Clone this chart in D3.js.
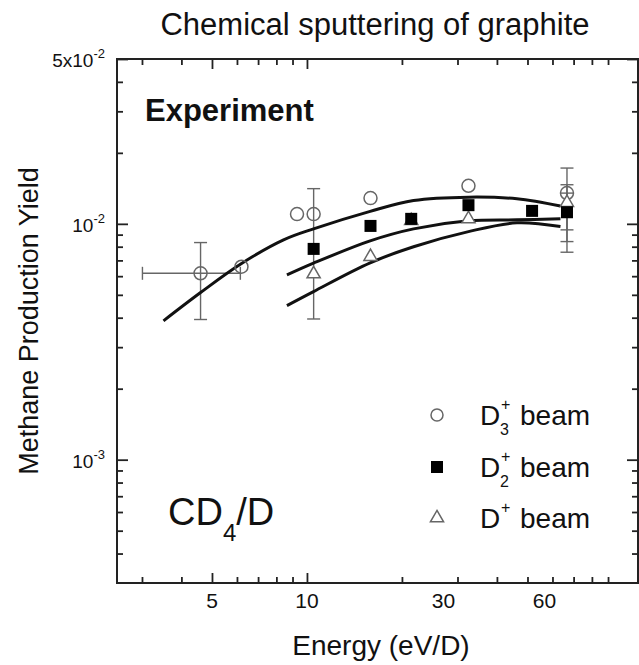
<!DOCTYPE html>
<html>
<head>
<meta charset="utf-8">
<script src="https://cdn.jsdelivr.net/npm/d3@7"></script>
<style>
  body { margin: 0; background: #fff; }
  text { font-family: "Liberation Sans", Arial, sans-serif; fill: #111; }
</style>
</head>
<body>
<svg id="chart" width="639" height="665"></svg>
<script>
// measured points, energy in eV/D, yield
const d3Energy = [4.6, 6.2, 9.3, 10.5, 15.9, 32.5, 66.7];
const d3Yield  = [0.00617, 0.00658, 0.0110, 0.0110, 0.01286, 0.0145, 0.01351];
const d2Energy = [10.5, 15.9, 21.4, 32.5, 51.7, 66.7];
const d2Yield  = [0.00783, 0.0098, 0.0105, 0.0120, 0.01135, 0.0112];
const d1Energy = [10.5, 15.9, 21.4, 32.5, 66.7];
const d1Yield  = [0.00613, 0.00726, 0.0103, 0.0105, 0.0123];

// error bars (yield range, optional energy range)
const errEnergy = [4.6, 10.5, 66.7, 66.7, 66.7];
const errLow    = [0.00393, 0.00395, 0.00758, 0.00841, 0.00943];
const errHigh   = [0.00833, 0.0141, 0.01724, 0.01465, 0.0135];
const errELow   = [3.01, null, null, null, null];
const errEHigh  = [6.15, null, null, null, null];
const errYield  = [0.00617, 0.00783, 0.01351, 0.0123, 0.0112];

// fitted curves
const fitD3E = [3.51, 4.59, 6.15, 8.43, 10.49, 15.86, 21.77, 32.5, 46.3, 63.6];
const fitD3Y = [0.00388, 0.0051, 0.00674, 0.00855, 0.00952, 0.0113, 0.01256, 0.01298, 0.01277, 0.0119];
const fitD2E = [8.64, 10.49, 15.86, 21.77, 32.5, 46.3, 63.6];
const fitD2Y = [0.00607, 0.00681, 0.00847, 0.00952, 0.0103, 0.0104, 0.0105];
const fitD1E = [8.64, 10.49, 15.86, 21.77, 32.5, 46.3, 63.6];
const fitD1Y = [0.0045, 0.00516, 0.00683, 0.0080, 0.00927, 0.0101, 0.00974];

// ticks
const xMajor = [5, 10];
const xMinor = [3, 4, 6, 7, 8, 9, 20, 30, 40, 50, 60, 70, 80, 90];
const xLabels = [5, 10, 30, 60];
const yMajor = [0.001, 0.01, 0.05];
const yMinor = [4e-4, 5e-4, 6e-4, 7e-4, 8e-4, 9e-4, 2e-3, 3e-3, 4e-3, 5e-3, 6e-3, 7e-3, 8e-3, 9e-3, 0.02, 0.03, 0.04];
const yLabels = [["5x10", "-2", 0.05], ["10", "-2", 0.01], ["10", "-3", 0.001]];

const svg = d3.select('#chart');
const L = 117, R = 638, T = 59, B = 583;

const x = d3.scaleLog().domain([2.5, 112]).range([L, R]);
const y = d3.scaleLog().domain([3e-4, 5e-2]).range([B, T]);

const ink = '#222';
const grey = '#666';

// ---- axes (ticks pointing in) ----
function styleAxis(g) {
    g.select('.domain').remove();
    g.selectAll('.tick line').attr('stroke', ink).attr('stroke-width', 1.8);
    g.selectAll('.tick text').remove();
}
svg.append('g').attr('transform', `translate(0,${B})`)
    .call(d3.axisBottom(x).tickValues(xMajor).tickSize(-10)).call(styleAxis);
svg.append('g').attr('transform', `translate(0,${B})`)
    .call(d3.axisBottom(x).tickValues(xMinor).tickSize(-6)).call(styleAxis);
svg.append('g').attr('transform', `translate(0,${T})`)
    .call(d3.axisTop(x).tickValues(xMajor).tickSize(-10)).call(styleAxis);
svg.append('g').attr('transform', `translate(0,${T})`)
    .call(d3.axisTop(x).tickValues(xMinor).tickSize(-6)).call(styleAxis);
svg.append('g').attr('transform', `translate(${L},0)`)
    .call(d3.axisLeft(y).tickValues(yMajor).tickSize(-11)).call(styleAxis);
svg.append('g').attr('transform', `translate(${L},0)`)
    .call(d3.axisLeft(y).tickValues(yMinor).tickSize(-6)).call(styleAxis);
svg.append('g').attr('transform', `translate(${R},0)`)
    .call(d3.axisRight(y).tickValues(yMajor).tickSize(-11)).call(styleAxis);
svg.append('g').attr('transform', `translate(${R},0)`)
    .call(d3.axisRight(y).tickValues(yMinor).tickSize(-6)).call(styleAxis);

// frame
svg.append('rect')
    .attr('x', L).attr('y', T)
    .attr('width', R - L).attr('height', B - T)
    .attr('fill', 'none')
    .attr('stroke', ink)
    .attr('stroke-width', 2);

// x tick labels (30 and 60 sit a bit left of their ticks in the original)
const labelNudge = {30: -14, 60: -8};
svg.selectAll('.xlab').data(xLabels).enter().append('text')
    .attr('x', d => x(d) + (labelNudge[d] || 0))
    .attr('y', 608)
    .attr('text-anchor', 'middle')
    .attr('font-size', 21)
    .attr('fill', '#222')
    .text(d => d);

// y tick labels with superscript exponent
yLabels.forEach(d => {
    const t = svg.append('text')
        .attr('x', 105)
        .attr('y', y(d[2]) + 8)
        .attr('text-anchor', 'end')
        .attr('font-size', 19)
        .attr('fill', '#222');
    t.append('tspan').text(d[0]);
    t.append('tspan').attr('dy', -9).attr('font-size', 13).text(d[1]);
});

// ---- error bars ----
const capW = 6.5;
errEnergy.forEach((e, i) => {
    const g = svg.append('g').attr('stroke', grey).attr('stroke-width', 1.4);
    const cx = x(e);
    g.append('line').attr('x1', cx).attr('x2', cx).attr('y1', y(errLow[i])).attr('y2', y(errHigh[i]));
    [errLow[i], errHigh[i]].forEach(v => {
        g.append('line').attr('x1', cx - capW).attr('x2', cx + capW).attr('y1', y(v)).attr('y2', y(v));
    });
    if (errELow[i] !== null) {
        const cy = y(errYield[i]);
        g.append('line').attr('x1', x(errELow[i])).attr('x2', x(errEHigh[i])).attr('y1', cy).attr('y2', cy);
        [errELow[i], errEHigh[i]].forEach(v => {
            g.append('line').attr('x1', x(v)).attr('x2', x(v)).attr('y1', cy - capW).attr('y2', cy + capW);
        });
    }
});

// ---- fitted curves ----
const line = d3.line()
    .x(d => x(d[0]))
    .y(d => y(d[1]))
    .curve(d3.curveCatmullRom);
[[fitD3E, fitD3Y], [fitD2E, fitD2Y], [fitD1E, fitD1Y]].forEach(([es, ys]) => {
    svg.append('path')
        .attr('d', line(es.map((e, i) => [e, ys[i]])))
        .attr('fill', 'none')
        .attr('stroke', '#111')
        .attr('stroke-width', 3);
});

// ---- markers ----
const triangle = d3.symbol().type(d3.symbolTriangle).size(75);

svg.selectAll('.d3pt').data(d3Energy).enter().append('circle')
    .attr('cx', d => x(d))
    .attr('cy', (d, i) => y(d3Yield[i]))
    .attr('r', 6.5)
    .attr('fill', 'none')
    .attr('stroke', grey)
    .attr('stroke-width', 1.5);

svg.selectAll('.d1pt').data(d1Energy).enter().append('path')
    .attr('d', triangle)
    .attr('transform', (d, i) => `translate(${x(d)},${y(d1Yield[i])})`)
    .attr('fill', '#fff')
    .attr('stroke', grey)
    .attr('stroke-width', 1.5);

svg.selectAll('.d2pt').data(d2Energy).enter().append('rect')
    .attr('x', d => x(d) - 6)
    .attr('y', (d, i) => y(d2Yield[i]) - 6)
    .attr('width', 12)
    .attr('height', 12)
    .attr('fill', '#000');

// ---- legend ----
const legendRows = [
    {y: 415, sub: '3'},
    {y: 467, sub: '2'},
    {y: 518, sub: null}
];
const symX = 437;
svg.append('circle').attr('cx', symX).attr('cy', legendRows[0].y).attr('r', 6)
    .attr('fill', 'none').attr('stroke', grey).attr('stroke-width', 1.5);
svg.append('rect').attr('x', symX - 6).attr('y', legendRows[1].y - 6)
    .attr('width', 12).attr('height', 12).attr('fill', '#000');
svg.append('path').attr('d', triangle)
    .attr('transform', `translate(${symX},${legendRows[2].y})`)
    .attr('fill', 'none').attr('stroke', grey).attr('stroke-width', 1.5);

legendRows.forEach(r => {
    const base = r.y + 10;
    svg.append('text').attr('x', 480).attr('y', base).attr('font-size', 28).text('D');
    svg.append('text').attr('x', 501).attr('y', base - 15).attr('font-size', 16).text('+');
    if (r.sub) svg.append('text').attr('x', 500).attr('y', base + 10).attr('font-size', 16).text(r.sub);
    svg.append('text').attr('x', 520).attr('y', base).attr('font-size', 28).text('beam');
});

// ---- annotations ----
svg.append('text')
    .attr('x', 145).attr('y', 121)
    .attr('font-size', 31).attr('font-weight', 'bold')
    .text('Experiment');

const cd = svg.append('text').attr('x', 168).attr('y', 525).attr('font-size', 38);
cd.append('tspan').text('CD');
cd.append('tspan').attr('dy', 16).attr('font-size', 24).text('4');
cd.append('tspan').attr('dy', -16).text('/D');

// titles
svg.append('text')
    .attr('x', 375).attr('y', 35)
    .attr('text-anchor', 'middle')
    .attr('font-size', 31)
    .text('Chemical sputtering of graphite');

svg.append('text')
    .attr('x', 381).attr('y', 655)
    .attr('text-anchor', 'middle')
    .attr('font-size', 28)
    .attr('fill', '#222')
    .text('Energy (eV/D)');

svg.append('text')
    .attr('transform', 'translate(38,321) rotate(-90)')
    .attr('text-anchor', 'middle')
    .attr('font-size', 27)
    .attr('fill', '#222')
    .text('Methane Production Yield');
</script>
</body>
</html>
